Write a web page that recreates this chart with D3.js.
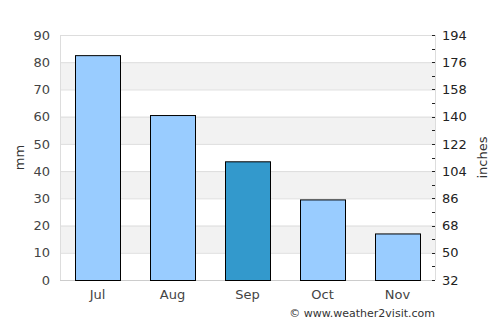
<!DOCTYPE html>
<html>
<head>
<meta charset="utf-8">
<script src="https://cdn.jsdelivr.net/npm/d3@7"></script>
<style>
  body { margin: 0; background: #fff; }
  svg { font-family: 'DejaVu Sans', sans-serif; }
</style>
</head>
<body>
<div class="rain-chart"></div>
<script>
const months = ['Jul', 'Aug', 'Sep', 'Oct', 'Nov'];
const rainfall = [82.6, 60.6, 43.6, 29.6, 17.1];
const highlight = 'Sep';
const mmTicks = [0, 10, 20, 30, 40, 50, 60, 70, 80, 90];
const rightTicks = [32, 50, 68, 86, 104, 122, 140, 158, 176, 194];
const rightMinor = [41, 59, 77, 95, 113, 131, 149, 167, 185];

const containerWidth = 500;
const containerHeight = 325;
const margin = { top: 35, right: 65, bottom: 45, left: 60 };
const graphWidth = containerWidth - margin.left - margin.right;
const graphHeight = containerHeight - margin.top - margin.bottom;

const svg = d3
  .select('.rain-chart')
  .append('svg')
  .attr('width', containerWidth)
  .attr('height', containerHeight);

const graph = svg
  .append('g')
  .attr('transform', `translate(${margin.left}, ${margin.top})`);

const xScale = d3
  .scaleBand()
  .domain(months)
  .range([0, graphWidth])
  .paddingInner(0.4)
  .paddingOuter(0.2);

const yScale = d3.scaleLinear().domain([0, 90]).range([graphHeight, 0]);
const yRight = d3.scaleLinear().domain([32, 194]).range([graphHeight, 0]);

// alternating bands
graph
  .selectAll('rect.band')
  .data([10, 30, 50, 70])
  .enter()
  .append('rect')
  .attr('class', 'band')
  .attr('x', 0)
  .attr('width', graphWidth)
  .attr('y', (d) => yScale(d + 10))
  .attr('height', (d) => yScale(d) - yScale(d + 10))
  .attr('fill', '#f2f2f2');

// gridlines
graph
  .selectAll('line.grid')
  .data(mmTicks)
  .enter()
  .append('line')
  .attr('class', 'grid')
  .attr('x1', 0)
  .attr('x2', graphWidth)
  .attr('y1', (d) => yScale(d) + 0.5)
  .attr('y2', (d) => yScale(d) + 0.5)
  .attr('stroke', '#dddddd');

// frame
graph
  .append('line')
  .attr('x1', 0.5).attr('x2', 0.5)
  .attr('y1', 0).attr('y2', graphHeight)
  .attr('stroke', '#dddddd');
graph
  .append('line')
  .attr('x1', graphWidth + 0.5).attr('x2', graphWidth + 0.5)
  .attr('y1', 0).attr('y2', graphHeight)
  .attr('stroke', '#dddddd');
graph
  .append('line')
  .attr('x1', 0).attr('x2', graphWidth)
  .attr('y1', graphHeight + 0.5).attr('y2', graphHeight + 0.5)
  .attr('stroke', '#cccccc');

// bars
graph
  .selectAll('rect.bar')
  .data(months)
  .enter()
  .append('rect')
  .attr('class', 'bar')
  .attr('x', (d) => xScale(d) + 0.5)
  .attr('width', xScale.bandwidth())
  .attr('y', (d, i) => yScale(rainfall[i]) + 0.5)
  .attr('height', (d, i) => graphHeight - yScale(rainfall[i]))
  .attr('fill', (d) => (d === highlight ? '#3399cc' : '#99ccff'))
  .attr('stroke', '#000')
  .attr('stroke-width', 1);

// left axis labels
const yAxis = d3.axisLeft(yScale).tickValues(mmTicks).tickSize(0).tickPadding(10);
graph
  .append('g')
  .call(yAxis)
  .attr('font-family', null)
  .attr('font-size', null)
  .call((g) => g.select('.domain').remove())
  .selectAll('text')
  .style('font-size', '13px')
  .attr('fill', '#444');

// right axis
const rightAxis = d3.axisRight(yRight).tickValues(rightTicks).tickSize(0).tickPadding(7);
const rightGroup = graph
  .append('g')
  .attr('transform', `translate(${graphWidth}, 0)`)
  .call(rightAxis)
  .attr('font-family', null)
  .attr('font-size', null)
  .call((g) => g.select('.domain').remove());
rightGroup.selectAll('text').style('font-size', '13px').attr('fill', '#222');

graph
  .selectAll('line.rtick')
  .data(rightTicks.concat(rightMinor))
  .enter()
  .append('line')
  .attr('class', 'rtick')
  .attr('x1', graphWidth - 3)
  .attr('x2', graphWidth)
  .attr('y1', (d) => Math.round(yRight(d)) + 0.5)
  .attr('y2', (d) => Math.round(yRight(d)) + 0.5)
  .attr('stroke', '#222');

// bottom labels
const xAxis = d3.axisBottom(xScale).tickSize(0).tickPadding(10);
graph
  .append('g')
  .attr('transform', `translate(0, ${graphHeight})`)
  .call(xAxis)
  .attr('font-family', null)
  .attr('font-size', null)
  .call((g) => g.select('.domain').remove())
  .selectAll('text')
  .style('font-size', '13px')
  .attr('fill', '#444');

// axis titles
svg
  .append('text')
  .attr('transform', 'rotate(-90)')
  .attr('x', -(margin.top + graphHeight / 2))
  .attr('y', 24)
  .attr('text-anchor', 'middle')
  .style('font-size', '13px')
  .attr('fill', '#333')
  .text('mm');

svg
  .append('text')
  .attr('transform', 'rotate(-90)')
  .attr('x', -(margin.top + graphHeight / 2))
  .attr('y', 487)
  .attr('text-anchor', 'middle')
  .style('font-size', '13px')
  .attr('fill', '#333')
  .text('inches');

svg
  .append('text')
  .attr('x', margin.left + graphWidth)
  .attr('y', 317)
  .attr('text-anchor', 'end')
  .style('font-size', '11px')
  .attr('fill', '#333')
  .text('© www.weather2visit.com');
</script>
</body>
</html>
